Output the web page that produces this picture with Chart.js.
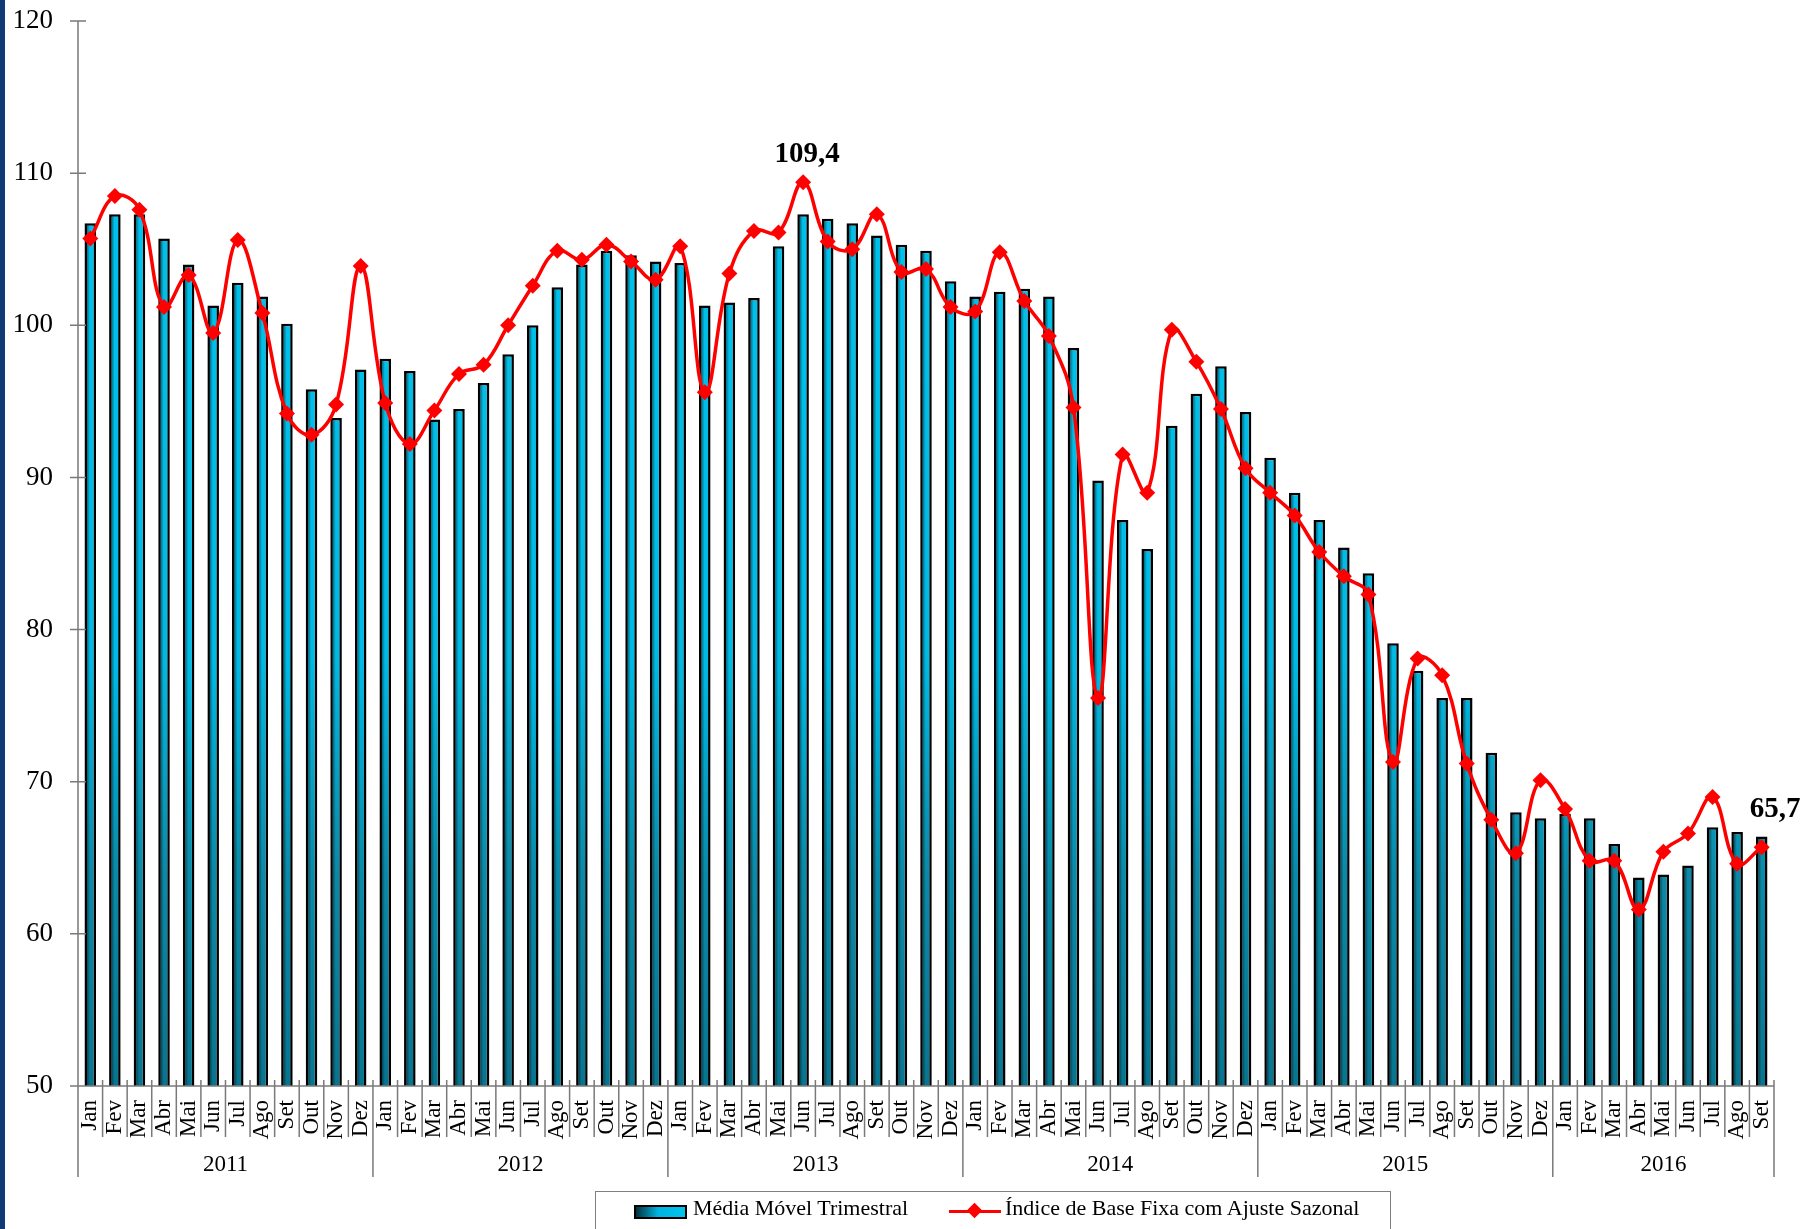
<!DOCTYPE html>
<html>
<head>
<meta charset="utf-8">
<script src="https://cdn.jsdelivr.net/npm/chart.js@4.4.0/dist/chart.umd.min.js"></script>
<style>
html, body { margin: 0; padding: 0; background: #fff; overflow: hidden; }
#wrap { position: relative; width: 1806px; height: 1229px; }
#strip { position: absolute; left: 0; top: 0; width: 5px; height: 1229px; background: #0f3a73; }
#legend { position: absolute; left: 595px; top: 1191px; width: 796px; height: 60px; border: 1.5px solid #7f7f7f; box-sizing: border-box;
  font-family: "Liberation Serif", serif; font-size: 22px; color: #000; }
#legend .sw { position: absolute; left: 38px; top: 13px; width: 53px; height: 14px; box-sizing: border-box; border: 2px solid #000;
  background: linear-gradient(to right, #04303c, #00b4e0 45%, #00c4ee); }
#legend .t1 { position: absolute; left: 97px; top: 3px; }
#legend .ln { position: absolute; left: 353px; top: 18px; width: 52px; height: 3px; background: #ff0000; }
#legend .dm { position: absolute; left: 373px; top: 13px; width: 11px; height: 11px; background: #ff0000; transform: rotate(45deg); }
#legend .t2 { position: absolute; left: 409px; top: 3px; }
</style>
</head>
<body>
<div id="wrap">
  <canvas id="grafico" width="1806" height="1229"></canvas>
  <div id="strip"></div>
  <div id="legend">
    <span class="sw"></span><span class="t1">Média Móvel Trimestral</span>
    <span class="ln"></span><span class="dm"></span><span class="t2">Índice de Base Fixa com Ajuste Sazonal</span>
  </div>
</div>
<script>
// meses e anos
var meses = ["Jan", "Fev", "Mar", "Abr", "Mai", "Jun", "Jul", "Ago", "Set", "Out", "Nov", "Dez"];
var anos = ["2011", "2012", "2013", "2014", "2015", "2016"];
var mesesPorAno = [12, 12, 12, 12, 12, 9];

// Média Móvel Trimestral (barras)
var mediaMovel = [
  106.7, 107.3, 107.3, 105.7, 104.0, 101.3, 102.8, 101.9, 100.1, 95.8, 93.9, 97.1,
  97.8, 97.0, 93.8, 94.5, 96.2, 98.1, 100.0, 102.5, 104.0, 104.9, 104.6, 104.2,
  104.1, 101.3, 101.5, 101.8, 105.2, 107.3, 107.0, 106.7, 105.9, 105.3, 104.9, 102.9,
  101.9, 102.2, 102.4, 101.9, 98.5, 89.8, 87.2, 85.3, 93.4, 95.5, 97.3, 94.3,
  91.3, 89.0, 87.2, 85.4, 83.7, 79.1, 77.3, 75.5, 75.5, 71.9, 68.0, 67.6,
  67.9, 67.6, 65.9, 63.7, 63.9, 64.5, 67.0, 66.7, 66.4
];

// Índice de Base Fixa com Ajuste Sazonal (linha)
var indiceAjustado = [
  105.7, 108.5, 107.6, 101.2, 103.3, 99.5, 105.6, 100.8, 94.2, 92.8, 94.8, 103.9,
  94.9, 92.2, 94.4, 96.8, 97.4, 100.0, 102.6, 104.9, 104.3, 105.3, 104.2, 103.0,
  105.2, 95.6, 103.4, 106.2, 106.1, 109.4, 105.5, 105.0, 107.3, 103.5, 103.7, 101.2,
  100.9, 104.8, 101.6, 99.3, 94.6, 75.5, 91.5, 89.0, 99.7, 97.6, 94.5, 90.6,
  89.0, 87.5, 85.1, 83.5, 82.3, 71.3, 78.1, 77.0, 71.2, 67.5, 65.3, 70.1,
  68.2, 64.8, 64.8, 61.6, 65.4, 66.6, 69.0, 64.6, 65.7
];

// rotulos destacados (indices na serie)
var destaques = [29, 68];

var labels = [];
for (var a = 0; a < anos.length; a++) {
  for (var m = 0; m < mesesPorAno[a]; m++) labels.push(meses[m]);
}

var serif = "'Liberation Serif', serif";
var gradCache = null;

function corBarra(context) {
  var chart = context.chart;
  var ca = chart.chartArea;
  if (!ca) return '#00b8e6';
  if (gradCache && gradCache.b === ca.bottom) return gradCache.g;
  var g = chart.ctx.createLinearGradient(0, ca.top, 0, ca.bottom);
  g.addColorStop(0, '#00c4ee');
  g.addColorStop(0.6, '#00bae4');
  g.addColorStop(0.8, '#0a8aa8');
  g.addColorStop(1, '#087590');
  gradCache = { b: ca.bottom, g: g };
  return g;
}

// eixos, separadores e anos
var eixos = {
  id: 'eixos',
  afterDatasetDraw: function (chart, args) {
    if (args.index !== 0) return;
    // sombra na lateral esquerda das barras
    var c = chart.ctx;
    var fundo = chart.chartArea.bottom;
    c.save();
    args.meta.data.forEach(function (b) {
      var w = b.width - 4;
      var x0 = b.x - w / 2;
      var g = c.createLinearGradient(x0, 0, x0 + w, 0);
      g.addColorStop(0, 'rgba(0,0,0,0.5)');
      g.addColorStop(0.45, 'rgba(0,0,0,0)');
      g.addColorStop(0.85, 'rgba(0,0,0,0)');
      g.addColorStop(1, 'rgba(0,0,0,0.15)');
      c.fillStyle = g;
      c.fillRect(x0, b.y + 2, w, Math.min(b.base, fundo) - b.y - 3);
    });
    c.restore();
  },
  afterDraw: function (chart) {
    var c = chart.ctx;
    var ca = chart.chartArea;
    var ys = chart.scales.y;
    var n = labels.length;
    var w = (ca.right - ca.left) / n;
    c.save();
    c.strokeStyle = '#7a7a7a';
    c.lineWidth = 1.5;
    c.beginPath();
    c.moveTo(ca.left, ca.top);
    c.lineTo(ca.left, ca.bottom);
    c.moveTo(ca.left, ca.bottom);
    c.lineTo(ca.right, ca.bottom);
    for (var v = 50; v <= 120; v += 10) {
      var y = ys.getPixelForValue(v);
      c.moveTo(ca.left - 8, y);
      c.lineTo(ca.left + 8, y);
    }
    var ini = 0, fronteiras = [0];
    for (var k = 0; k < mesesPorAno.length; k++) { ini += mesesPorAno[k]; fronteiras.push(ini); }
    for (var i = 0; i <= n; i++) {
      var x = ca.left + i * w;
      var longo = fronteiras.indexOf(i) >= 0;
      c.moveTo(x, ca.bottom - 6);
      c.lineTo(x, ca.bottom + (longo ? 91 : 51));
    }
    c.stroke();
    c.fillStyle = '#000';
    c.font = '23px ' + serif;
    c.textAlign = 'center';
    c.textBaseline = 'middle';
    for (var j = 0; j < anos.length; j++) {
      var xc = ca.left + (fronteiras[j] + fronteiras[j + 1]) / 2 * w;
      c.fillText(anos[j], xc, ca.bottom + 79);
    }
    c.restore();
  },
  afterDatasetsDraw: function (chart) {
    var c = chart.ctx;
    var pts = chart.getDatasetMeta(1).data;
    c.save();
    c.fillStyle = '#000';
    c.font = 'bold 29px ' + serif;
    c.textBaseline = 'alphabetic';
    var p = pts[destaques[0]];
    c.textAlign = 'center';
    c.fillText(indiceAjustado[destaques[0]].toFixed(1).replace('.', ','), p.x + 4, p.y - 20);
    p = pts[destaques[1]];
    c.textAlign = 'left';
    c.fillText(indiceAjustado[destaques[1]].toFixed(1).replace('.', ','), p.x - 12, p.y - 30);
    c.restore();
  }
};

var ctx = document.getElementById("grafico");
var myChart = new Chart(ctx, {
  type: 'bar',
  data: {
    labels: labels,
    datasets: [{
      type: 'bar',
      label: 'Média Móvel Trimestral',
      data: mediaMovel,
      backgroundColor: corBarra,
      borderColor: '#000',
      borderWidth: 2.5,
      barPercentage: 0.47,
      categoryPercentage: 1,
      order: 2
    }, {
      type: 'line',
      label: 'Índice de Base Fixa com Ajuste Sazonal',
      data: indiceAjustado,
      borderColor: '#ff0000',
      backgroundColor: '#ff0000',
      borderWidth: 3.5,
      tension: 0.4,
      pointStyle: 'rectRot',
      pointRadius: 8,
      pointBorderWidth: 0,
      pointBackgroundColor: '#ff0000',
      order: 1
    }]
  },
  options: {
    responsive: false,
    animation: false,
    layout: { padding: { left: 0, right: 32, top: 21, bottom: 0 } },
    plugins: {
      legend: { display: false },
      tooltip: { enabled: false }
    },
    scales: {
      x: {
        grid: { display: false, drawTicks: true, tickLength: 14 },
        border: { display: false },
        ticks: {
          autoSkip: false,
          minRotation: 90,
          maxRotation: 90,
          padding: 0,
          color: '#000',
          font: { family: serif, size: 23 }
        },
        afterFit: function (scale) { scale.height = 143; }
      },
      y: {
        min: 50,
        max: 120,
        grid: { display: false, drawTicks: true, tickLength: 25 },
        border: { display: false },
        ticks: {
          stepSize: 10,
          padding: 0,
          color: '#000',
          font: { family: serif, size: 27 }
        },
        afterFit: function (scale) { scale.width = 78; }
      }
    }
  },
  plugins: [eixos]
});
</script>
</body>
</html>
